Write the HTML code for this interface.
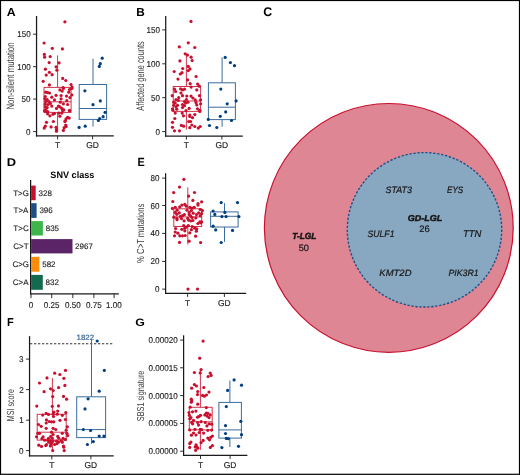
<!DOCTYPE html>
<html><head><meta charset="utf-8"><style>
html,body{margin:0;padding:0;background:#fff;width:520px;height:475px;overflow:hidden}
svg{display:block;font-family:"Liberation Sans", sans-serif;will-change:transform;text-rendering:geometricPrecision}
</style></head><body>
<svg width="520" height="475" viewBox="0 0 520 475">
<rect x="0" y="0" width="520" height="475" fill="#fff"/>
<text transform="matrix(1.23529,0,0,1.16176,6.653,15.800)" font-size="10" fill="#000" font-weight="bold">A</text>
<line x1="36.55" y1="16.00" x2="36.55" y2="136.47" stroke="#1a1a1a" stroke-width="1.25"/>
<line x1="35.92" y1="135.85" x2="113.80" y2="135.85" stroke="#1a1a1a" stroke-width="1.25"/>
<line x1="33.05" y1="131.60" x2="36.55" y2="131.60" stroke="#1a1a1a" stroke-width="0.9"/>
<text transform="matrix(0.80750,0,0,0.85000,26.101,134.675)" font-size="10" fill="#222222" stroke="#222222" stroke-width="0.15">0</text>
<line x1="33.05" y1="99.10" x2="36.55" y2="99.10" stroke="#1a1a1a" stroke-width="0.9"/>
<text transform="matrix(0.80750,0,0,0.85000,21.579,102.175)" font-size="10" fill="#222222" stroke="#222222" stroke-width="0.15">50</text>
<line x1="33.05" y1="66.70" x2="36.55" y2="66.70" stroke="#1a1a1a" stroke-width="0.9"/>
<text transform="matrix(0.80750,0,0,0.85000,17.218,69.775)" font-size="10" fill="#222222" stroke="#222222" stroke-width="0.15">100</text>
<line x1="33.05" y1="34.20" x2="36.55" y2="34.20" stroke="#1a1a1a" stroke-width="0.9"/>
<text transform="matrix(0.80750,0,0,0.85000,17.218,37.275)" font-size="10" fill="#222222" stroke="#222222" stroke-width="0.15">150</text>
<line x1="57.60" y1="135.85" x2="57.60" y2="139.45" stroke="#1a1a1a" stroke-width="0.9"/>
<text transform="matrix(0.84787,0,0,0.85000,55.056,148.340)" font-size="10" fill="#222222" stroke="#222222" stroke-width="0.15">T</text>
<line x1="92.60" y1="135.85" x2="92.60" y2="139.45" stroke="#1a1a1a" stroke-width="0.9"/>
<text transform="matrix(0.84787,0,0,0.85000,86.156,148.340)" font-size="10" fill="#222222" stroke="#222222" stroke-width="0.15">GD</text>
<text transform="matrix(0,-0.77830,1.06944,0,13.900,109.523)" font-size="10" fill="#3c3c3c">Non-silent mutation</text>
<g stroke="#d0354f" stroke-width="1.0" fill="none"><rect x="44.00" y="87.40" width="27.10" height="25.00"/><line x1="44.00" y1="101.80" x2="71.10" y2="101.80"/><line x1="57.60" y1="55.40" x2="57.60" y2="87.40"/><line x1="57.60" y1="112.40" x2="57.60" y2="131.50"/></g>
<g stroke="#3b6c9d" stroke-width="1.0" fill="none"><rect x="79.20" y="84.50" width="27.40" height="34.90"/><line x1="79.20" y1="108.50" x2="106.60" y2="108.50"/><line x1="93.00" y1="58.60" x2="93.00" y2="84.50"/><line x1="93.00" y1="119.40" x2="93.00" y2="126.60"/></g>
<g fill="#c8102e"><circle cx="64.9" cy="21.8" r="1.6"/><circle cx="44.1" cy="43.0" r="1.6"/><circle cx="52.3" cy="48.3" r="1.6"/><circle cx="62.4" cy="48.9" r="1.6"/><circle cx="44.3" cy="54.4" r="1.6"/><circle cx="44.6" cy="57.2" r="1.6"/><circle cx="50.2" cy="56.6" r="1.6"/><circle cx="49.2" cy="62.6" r="1.6"/><circle cx="59.1" cy="62.8" r="1.6"/><circle cx="56.1" cy="66.8" r="1.6"/><circle cx="56.9" cy="70.2" r="1.6"/><circle cx="45.4" cy="69.2" r="1.6"/><circle cx="49.4" cy="72.3" r="1.6"/><circle cx="46.2" cy="75.1" r="1.6"/><circle cx="52.1" cy="74.7" r="1.6"/><circle cx="43.2" cy="81.3" r="1.6"/><circle cx="62.7" cy="78.4" r="1.6"/><circle cx="65.8" cy="80.5" r="1.6"/><circle cx="49.4" cy="84.9" r="1.6"/><circle cx="71.0" cy="84.5" r="1.6"/><circle cx="72.1" cy="87.1" r="1.6"/><circle cx="63.1" cy="87.5" r="1.6"/><circle cx="59.9" cy="89.9" r="1.6"/><circle cx="62.2" cy="91.1" r="1.6"/><circle cx="63.4" cy="88.4" r="1.6"/><circle cx="69.5" cy="89.5" r="1.6"/><circle cx="68.8" cy="92.2" r="1.6"/><circle cx="71.8" cy="88.4" r="1.6"/><circle cx="45.7" cy="92.2" r="1.6"/><circle cx="47.6" cy="92.6" r="1.6"/><circle cx="49.5" cy="93.0" r="1.6"/><circle cx="56.1" cy="95.3" r="1.6"/><circle cx="61.1" cy="95.5" r="1.6"/><circle cx="66.5" cy="96.1" r="1.6"/><circle cx="71.8" cy="94.9" r="1.6"/><circle cx="69.9" cy="97.6" r="1.6"/><circle cx="51.8" cy="97.2" r="1.6"/><circle cx="45.3" cy="96.5" r="1.6"/><circle cx="44.9" cy="98.8" r="1.6"/><circle cx="47.2" cy="99.5" r="1.6"/><circle cx="61.1" cy="98.8" r="1.6"/><circle cx="54.5" cy="99.9" r="1.6"/><circle cx="66.8" cy="100.7" r="1.6"/><circle cx="45.7" cy="101.5" r="1.6"/><circle cx="48.8" cy="101.5" r="1.6"/><circle cx="60.3" cy="102.2" r="1.6"/><circle cx="50.3" cy="103.4" r="1.6"/><circle cx="45.3" cy="104.2" r="1.6"/><circle cx="48.0" cy="104.5" r="1.6"/><circle cx="63.4" cy="103.8" r="1.6"/><circle cx="67.6" cy="104.5" r="1.6"/><circle cx="51.8" cy="106.1" r="1.6"/><circle cx="58.4" cy="106.1" r="1.6"/><circle cx="59.9" cy="106.8" r="1.6"/><circle cx="45.3" cy="106.8" r="1.6"/><circle cx="47.2" cy="107.6" r="1.6"/><circle cx="56.5" cy="108.4" r="1.6"/><circle cx="61.8" cy="108.4" r="1.6"/><circle cx="45.7" cy="109.5" r="1.6"/><circle cx="63.8" cy="109.9" r="1.6"/><circle cx="69.5" cy="110.3" r="1.6"/><circle cx="45.3" cy="111.2" r="1.6"/><circle cx="44.5" cy="110.8" r="1.6"/><circle cx="47.6" cy="111.5" r="1.6"/><circle cx="62.6" cy="110.4" r="1.6"/><circle cx="69.5" cy="111.0" r="1.6"/><circle cx="47.6" cy="113.8" r="1.6"/><circle cx="49.9" cy="115.8" r="1.6"/><circle cx="53.0" cy="114.2" r="1.6"/><circle cx="54.5" cy="113.5" r="1.6"/><circle cx="58.8" cy="113.1" r="1.6"/><circle cx="61.8" cy="113.1" r="1.6"/><circle cx="59.9" cy="116.2" r="1.6"/><circle cx="67.6" cy="117.3" r="1.6"/><circle cx="69.2" cy="118.1" r="1.6"/><circle cx="66.1" cy="118.8" r="1.6"/><circle cx="65.3" cy="120.8" r="1.6"/><circle cx="64.9" cy="121.5" r="1.6"/><circle cx="46.5" cy="122.3" r="1.6"/><circle cx="53.4" cy="121.5" r="1.6"/><circle cx="45.3" cy="126.2" r="1.6"/><circle cx="44.2" cy="128.1" r="1.6"/><circle cx="51.1" cy="126.9" r="1.6"/><circle cx="56.1" cy="127.3" r="1.6"/><circle cx="56.5" cy="129.6" r="1.6"/><circle cx="56.5" cy="131.2" r="1.6"/><circle cx="65.7" cy="125.0" r="1.6"/><circle cx="66.1" cy="126.5" r="1.6"/><circle cx="64.2" cy="127.7" r="1.6"/><circle cx="63.4" cy="130.4" r="1.6"/></g>
<g fill="#023f80"><circle cx="102.2" cy="58.2" r="1.6"/><circle cx="100.3" cy="63.7" r="1.6"/><circle cx="99.3" cy="66.4" r="1.6"/><circle cx="84.9" cy="90.8" r="1.6"/><circle cx="100.3" cy="100.9" r="1.6"/><circle cx="93.0" cy="104.7" r="1.6"/><circle cx="105.1" cy="112.3" r="1.6"/><circle cx="103.1" cy="116.7" r="1.6"/><circle cx="99.7" cy="118.6" r="1.6"/><circle cx="98.4" cy="120.5" r="1.6"/><circle cx="79.1" cy="127.4" r="1.6"/><circle cx="85.2" cy="126.2" r="1.6"/></g>
<text transform="matrix(1.17742,0,0,1.16176,136.194,15.800)" font-size="10" fill="#000" font-weight="bold">B</text>
<line x1="165.70" y1="16.00" x2="165.70" y2="136.62" stroke="#1a1a1a" stroke-width="1.25"/>
<line x1="165.07" y1="136.00" x2="242.80" y2="136.00" stroke="#1a1a1a" stroke-width="1.25"/>
<line x1="162.20" y1="131.60" x2="165.70" y2="131.60" stroke="#1a1a1a" stroke-width="0.9"/>
<text transform="matrix(0.80750,0,0,0.85000,155.501,134.675)" font-size="10" fill="#222222" stroke="#222222" stroke-width="0.15">0</text>
<line x1="162.20" y1="97.70" x2="165.70" y2="97.70" stroke="#1a1a1a" stroke-width="0.9"/>
<text transform="matrix(0.80750,0,0,0.85000,150.979,100.775)" font-size="10" fill="#222222" stroke="#222222" stroke-width="0.15">50</text>
<line x1="162.20" y1="63.80" x2="165.70" y2="63.80" stroke="#1a1a1a" stroke-width="0.9"/>
<text transform="matrix(0.80750,0,0,0.85000,146.618,66.875)" font-size="10" fill="#222222" stroke="#222222" stroke-width="0.15">100</text>
<line x1="162.20" y1="29.90" x2="165.70" y2="29.90" stroke="#1a1a1a" stroke-width="0.9"/>
<text transform="matrix(0.80750,0,0,0.85000,146.618,32.975)" font-size="10" fill="#222222" stroke="#222222" stroke-width="0.15">150</text>
<line x1="186.40" y1="136.00" x2="186.40" y2="139.60" stroke="#1a1a1a" stroke-width="0.9"/>
<text transform="matrix(0.84787,0,0,0.85000,183.856,148.490)" font-size="10" fill="#222222" stroke="#222222" stroke-width="0.15">T</text>
<line x1="221.90" y1="136.00" x2="221.90" y2="139.60" stroke="#1a1a1a" stroke-width="0.9"/>
<text transform="matrix(0.84787,0,0,0.85000,215.456,148.490)" font-size="10" fill="#222222" stroke="#222222" stroke-width="0.15">GD</text>
<text transform="matrix(0,-0.73983,1.07609,0,143.848,110.700)" font-size="10" fill="#3c3c3c">Affected gene counts</text>
<g stroke="#d0354f" stroke-width="1.0" fill="none"><rect x="173.20" y="86.50" width="27.40" height="24.90"/><line x1="173.20" y1="101.00" x2="200.60" y2="101.00"/><line x1="186.40" y1="54.60" x2="186.40" y2="86.50"/><line x1="186.40" y1="111.40" x2="186.40" y2="129.60"/></g>
<g stroke="#3b6c9d" stroke-width="1.0" fill="none"><rect x="208.40" y="82.80" width="27.00" height="36.80"/><line x1="208.40" y1="107.20" x2="235.40" y2="107.20"/><line x1="222.10" y1="57.40" x2="222.10" y2="82.80"/><line x1="222.10" y1="119.60" x2="222.10" y2="126.70"/></g>
<g fill="#c8102e"><circle cx="191.0" cy="21.4" r="1.6"/><circle cx="188.3" cy="42.8" r="1.6"/><circle cx="179.3" cy="46.8" r="1.6"/><circle cx="194.8" cy="47.5" r="1.6"/><circle cx="185.2" cy="53.8" r="1.6"/><circle cx="187.5" cy="55.1" r="1.6"/><circle cx="191.1" cy="57.2" r="1.6"/><circle cx="192.1" cy="60.5" r="1.6"/><circle cx="179.9" cy="60.9" r="1.6"/><circle cx="188.3" cy="66.4" r="1.6"/><circle cx="190.0" cy="68.9" r="1.6"/><circle cx="188.3" cy="70.6" r="1.6"/><circle cx="182.7" cy="68.5" r="1.6"/><circle cx="174.2" cy="71.5" r="1.6"/><circle cx="182.0" cy="72.7" r="1.6"/><circle cx="180.3" cy="74.0" r="1.6"/><circle cx="196.1" cy="76.5" r="1.6"/><circle cx="178.0" cy="79.1" r="1.6"/><circle cx="187.6" cy="79.9" r="1.6"/><circle cx="190.2" cy="83.7" r="1.6"/><circle cx="197.6" cy="84.1" r="1.6"/><circle cx="199.3" cy="86.2" r="1.6"/><circle cx="191.1" cy="87.1" r="1.6"/><circle cx="174.5" cy="89.2" r="1.6"/><circle cx="175.6" cy="91.5" r="1.6"/><circle cx="180.6" cy="88.8" r="1.6"/><circle cx="182.5" cy="89.9" r="1.6"/><circle cx="184.5" cy="89.2" r="1.6"/><circle cx="196.8" cy="89.9" r="1.6"/><circle cx="181.0" cy="93.0" r="1.6"/><circle cx="172.2" cy="95.7" r="1.6"/><circle cx="182.5" cy="95.7" r="1.6"/><circle cx="186.8" cy="96.1" r="1.6"/><circle cx="191.0" cy="96.1" r="1.6"/><circle cx="199.5" cy="95.7" r="1.6"/><circle cx="178.7" cy="97.6" r="1.6"/><circle cx="192.9" cy="98.0" r="1.6"/><circle cx="176.0" cy="99.5" r="1.6"/><circle cx="178.3" cy="100.3" r="1.6"/><circle cx="186.4" cy="99.5" r="1.6"/><circle cx="195.2" cy="99.9" r="1.6"/><circle cx="200.6" cy="99.9" r="1.6"/><circle cx="173.7" cy="102.2" r="1.6"/><circle cx="175.2" cy="103.0" r="1.6"/><circle cx="184.5" cy="101.5" r="1.6"/><circle cx="185.6" cy="103.0" r="1.6"/><circle cx="187.9" cy="102.2" r="1.6"/><circle cx="196.0" cy="102.6" r="1.6"/><circle cx="200.6" cy="103.8" r="1.6"/><circle cx="173.7" cy="105.3" r="1.6"/><circle cx="177.5" cy="105.3" r="1.6"/><circle cx="182.5" cy="104.5" r="1.6"/><circle cx="184.5" cy="105.7" r="1.6"/><circle cx="196.8" cy="104.9" r="1.6"/><circle cx="176.0" cy="106.8" r="1.6"/><circle cx="182.5" cy="107.6" r="1.6"/><circle cx="189.1" cy="108.4" r="1.6"/><circle cx="172.5" cy="108.8" r="1.6"/><circle cx="176.8" cy="109.2" r="1.6"/><circle cx="197.5" cy="108.8" r="1.6"/><circle cx="172.9" cy="110.3" r="1.6"/><circle cx="186.0" cy="110.7" r="1.6"/><circle cx="199.8" cy="110.3" r="1.6"/><circle cx="199.8" cy="111.5" r="1.6"/><circle cx="175.2" cy="113.1" r="1.6"/><circle cx="182.2" cy="113.1" r="1.6"/><circle cx="183.5" cy="115.8" r="1.6"/><circle cx="189.8" cy="115.0" r="1.6"/><circle cx="189.8" cy="116.5" r="1.6"/><circle cx="192.5" cy="117.7" r="1.6"/><circle cx="194.8" cy="114.6" r="1.6"/><circle cx="174.8" cy="118.5" r="1.6"/><circle cx="172.5" cy="122.3" r="1.6"/><circle cx="188.7" cy="121.5" r="1.6"/><circle cx="190.6" cy="121.5" r="1.6"/><circle cx="181.4" cy="125.4" r="1.6"/><circle cx="183.7" cy="126.2" r="1.6"/><circle cx="191.8" cy="125.0" r="1.6"/><circle cx="189.8" cy="127.7" r="1.6"/><circle cx="194.8" cy="126.5" r="1.6"/><circle cx="198.3" cy="128.1" r="1.6"/><circle cx="200.2" cy="126.5" r="1.6"/><circle cx="172.5" cy="127.3" r="1.6"/><circle cx="174.5" cy="130.8" r="1.6"/><circle cx="179.5" cy="130.8" r="1.6"/></g>
<g fill="#023f80"><circle cx="225.2" cy="57.4" r="1.6"/><circle cx="230.4" cy="62.6" r="1.6"/><circle cx="234.5" cy="65.7" r="1.6"/><circle cx="220.8" cy="89.1" r="1.6"/><circle cx="236.1" cy="100.9" r="1.6"/><circle cx="227.2" cy="103.8" r="1.6"/><circle cx="225.7" cy="111.9" r="1.6"/><circle cx="220.3" cy="116.3" r="1.6"/><circle cx="208.3" cy="119.4" r="1.6"/><circle cx="231.5" cy="120.5" r="1.6"/><circle cx="209.5" cy="125.5" r="1.6"/><circle cx="216.8" cy="127.5" r="1.6"/></g>
<text transform="matrix(1.23437,0,0,1.25714,263.306,16.200)" font-size="10" fill="#000" font-weight="bold">C</text>
<circle cx="388.8" cy="227.9" r="124.4" fill="#df8695" stroke="#c8102e" stroke-width="1.2"/>
<circle cx="424.5" cy="229.8" r="77.2" fill="#88a7c0" stroke="#1b5089" stroke-width="1.4" stroke-dasharray="2.3 1.7"/>
<text transform="matrix(0.83330,0,0,0.88194,292.267,238.937)" font-size="10" fill="#161616" font-weight="bold" font-style="italic" stroke="#161616" stroke-width="0.55">T-LGL</text>
<text transform="matrix(0.92419,0,0,0.92980,298.725,250.704)" font-size="10" fill="#161616" stroke="#161616" stroke-width="0.2">50</text>
<text transform="matrix(0.89782,0,0,0.85561,407.791,220.645)" font-size="10" fill="#161616" font-weight="bold" font-style="italic" stroke="#161616" stroke-width="0.55">GD-LGL</text>
<text transform="matrix(0.94080,0,0,0.94367,419.232,232.103)" font-size="10" fill="#161616" stroke="#161616" stroke-width="0.2">26</text>
<text transform="matrix(0.88771,0,0,0.92980,385.534,192.704)" font-size="10" fill="#161616" font-style="italic" stroke="#161616" stroke-width="0.2">STAT3</text>
<text transform="matrix(0.80604,0,0,0.92980,447.059,192.704)" font-size="10" fill="#161616" font-style="italic" stroke="#161616" stroke-width="0.2">EYS</text>
<text transform="matrix(0.86996,0,0,0.92980,367.440,236.704)" font-size="10" fill="#161616" font-style="italic" stroke="#161616" stroke-width="0.2">SULF1</text>
<text transform="matrix(0.95150,0,0,0.97059,462.945,236.800)" font-size="10" fill="#161616" font-style="italic" stroke="#161616" stroke-width="0.2">TTN</text>
<text transform="matrix(0.94907,0,0,0.91592,379.316,275.806)" font-size="10" fill="#161616" font-style="italic" stroke="#161616" stroke-width="0.2">KMT2D</text>
<text transform="matrix(0.87721,0,0,0.91592,448.437,275.806)" font-size="10" fill="#161616" font-style="italic" stroke="#161616" stroke-width="0.2">PIK3R1</text>
<text transform="matrix(1.29032,0,0,1.13235,6.626,166.200)" font-size="10" fill="#000" font-weight="bold">D</text>
<text transform="matrix(0.90966,0,0,0.93056,50.336,177.600)" font-size="10" fill="#000" font-weight="bold">SNV class</text>
<line x1="30.60" y1="180.00" x2="30.60" y2="294.35" stroke="#1a1a1a" stroke-width="1.25"/>
<line x1="30.00" y1="293.75" x2="118.80" y2="293.75" stroke="#1a1a1a" stroke-width="1.25"/>
<line x1="31.00" y1="293.75" x2="31.00" y2="298.15" stroke="#1a1a1a" stroke-width="0.9"/>
<text transform="matrix(0.80750,0,0,0.85000,28.739,307.975)" font-size="10" fill="#222222" stroke="#222222" stroke-width="0.15">0</text>
<line x1="51.70" y1="293.75" x2="51.70" y2="298.15" stroke="#1a1a1a" stroke-width="0.9"/>
<text transform="matrix(0.80750,0,0,0.85000,43.867,307.975)" font-size="10" fill="#222222" stroke="#222222" stroke-width="0.15">0.25</text>
<line x1="72.80" y1="293.75" x2="72.80" y2="298.15" stroke="#1a1a1a" stroke-width="0.9"/>
<text transform="matrix(0.80750,0,0,0.85000,64.967,307.975)" font-size="10" fill="#222222" stroke="#222222" stroke-width="0.15">0.50</text>
<line x1="93.90" y1="293.75" x2="93.90" y2="298.15" stroke="#1a1a1a" stroke-width="0.9"/>
<text transform="matrix(0.80750,0,0,0.85000,86.067,307.975)" font-size="10" fill="#222222" stroke="#222222" stroke-width="0.15">0.75</text>
<line x1="114.10" y1="293.75" x2="114.10" y2="298.15" stroke="#1a1a1a" stroke-width="0.9"/>
<text transform="matrix(0.80750,0,0,0.85000,106.106,307.975)" font-size="10" fill="#222222" stroke="#222222" stroke-width="0.15">1.00</text>
<rect x="31.10" y="185.60" width="4.60" height="14.60" fill="#c8102e"/>
<text transform="matrix(0.80000,0,0,0.80000,13.200,195.620)" font-size="10" fill="#222222" stroke="#222222" stroke-width="0.15">T&gt;G</text>
<text transform="matrix(0.80000,0,0,0.80000,38.480,195.700)" font-size="10" fill="#222222" stroke="#222222" stroke-width="0.15">328</text>
<rect x="31.10" y="203.20" width="5.50" height="14.70" fill="#1b4f8a"/>
<text transform="matrix(0.80000,0,0,0.80000,13.520,213.270)" font-size="10" fill="#222222" stroke="#222222" stroke-width="0.15">T&gt;A</text>
<text transform="matrix(0.80000,0,0,0.80000,39.380,213.350)" font-size="10" fill="#222222" stroke="#222222" stroke-width="0.15">396</text>
<rect x="31.10" y="221.10" width="11.80" height="14.40" fill="#3db54a"/>
<text transform="matrix(0.80000,0,0,0.80000,13.360,231.020)" font-size="10" fill="#222222" stroke="#222222" stroke-width="0.15">T&gt;C</text>
<text transform="matrix(0.80000,0,0,0.80000,45.680,231.100)" font-size="10" fill="#222222" stroke="#222222" stroke-width="0.15">835</text>
<rect x="31.10" y="239.10" width="41.40" height="14.30" fill="#5a2467"/>
<text transform="matrix(0.80000,0,0,0.80000,13.200,248.970)" font-size="10" fill="#222222" stroke="#222222" stroke-width="0.15">C&gt;T</text>
<text transform="matrix(0.80000,0,0,0.80000,75.120,249.050)" font-size="10" fill="#222222" stroke="#222222" stroke-width="0.15">2967</text>
<rect x="31.10" y="256.80" width="8.30" height="14.90" fill="#fb8c0c"/>
<text transform="matrix(0.80000,0,0,0.80000,12.400,266.970)" font-size="10" fill="#222222" stroke="#222222" stroke-width="0.15">C&gt;G</text>
<text transform="matrix(0.80000,0,0,0.80000,42.180,267.050)" font-size="10" fill="#222222" stroke="#222222" stroke-width="0.15">582</text>
<rect x="31.10" y="274.90" width="11.70" height="14.90" fill="#146a4e"/>
<text transform="matrix(0.80000,0,0,0.80000,12.720,285.070)" font-size="10" fill="#222222" stroke="#222222" stroke-width="0.15">C&gt;A</text>
<text transform="matrix(0.80000,0,0,0.80000,45.580,285.150)" font-size="10" fill="#222222" stroke="#222222" stroke-width="0.15">832</text>
<text transform="matrix(1.08929,0,0,1.19118,137.446,166.200)" font-size="10" fill="#000" font-weight="bold">E</text>
<line x1="165.60" y1="173.20" x2="165.60" y2="293.93" stroke="#1a1a1a" stroke-width="1.25"/>
<line x1="164.97" y1="293.30" x2="246.20" y2="293.30" stroke="#1a1a1a" stroke-width="1.25"/>
<line x1="162.10" y1="289.10" x2="165.60" y2="289.10" stroke="#1a1a1a" stroke-width="0.9"/>
<text transform="matrix(0.80750,0,0,0.85000,155.101,292.175)" font-size="10" fill="#222222" stroke="#222222" stroke-width="0.15">0</text>
<line x1="162.10" y1="261.40" x2="165.60" y2="261.40" stroke="#1a1a1a" stroke-width="0.9"/>
<text transform="matrix(0.80750,0,0,0.85000,150.579,264.475)" font-size="10" fill="#222222" stroke="#222222" stroke-width="0.15">20</text>
<line x1="162.10" y1="233.40" x2="165.60" y2="233.40" stroke="#1a1a1a" stroke-width="0.9"/>
<text transform="matrix(0.80750,0,0,0.85000,150.579,236.475)" font-size="10" fill="#222222" stroke="#222222" stroke-width="0.15">40</text>
<line x1="162.10" y1="205.50" x2="165.60" y2="205.50" stroke="#1a1a1a" stroke-width="0.9"/>
<text transform="matrix(0.80750,0,0,0.85000,150.579,208.575)" font-size="10" fill="#222222" stroke="#222222" stroke-width="0.15">60</text>
<line x1="162.10" y1="178.10" x2="165.60" y2="178.10" stroke="#1a1a1a" stroke-width="0.9"/>
<text transform="matrix(0.80750,0,0,0.85000,150.579,181.175)" font-size="10" fill="#222222" stroke="#222222" stroke-width="0.15">80</text>
<line x1="187.60" y1="293.30" x2="187.60" y2="296.90" stroke="#1a1a1a" stroke-width="0.9"/>
<text transform="matrix(0.84787,0,0,0.85000,185.056,305.790)" font-size="10" fill="#222222" stroke="#222222" stroke-width="0.15">T</text>
<line x1="224.40" y1="293.30" x2="224.40" y2="296.90" stroke="#1a1a1a" stroke-width="0.9"/>
<text transform="matrix(0.84787,0,0,0.85000,217.956,305.790)" font-size="10" fill="#222222" stroke="#222222" stroke-width="0.15">GD</text>
<text transform="matrix(0,-0.77105,1.02778,0,144.200,262.908)" font-size="10" fill="#3c3c3c">% C&gt;T mutations</text>
<g stroke="#d0354f" stroke-width="1.0" fill="none"><rect x="173.80" y="208.80" width="27.90" height="17.70"/><line x1="173.80" y1="216.90" x2="201.70" y2="216.90"/><line x1="187.80" y1="187.30" x2="187.80" y2="208.80"/><line x1="187.80" y1="226.50" x2="187.80" y2="244.50"/></g>
<g stroke="#3b6c9d" stroke-width="1.0" fill="none"><rect x="210.60" y="211.90" width="27.50" height="15.10"/><line x1="210.60" y1="216.30" x2="238.10" y2="216.30"/><line x1="224.50" y1="203.10" x2="224.50" y2="211.90"/><line x1="224.50" y1="227.00" x2="224.50" y2="241.90"/></g>
<g fill="#c8102e"><circle cx="183.9" cy="179.3" r="1.6"/><circle cx="179.5" cy="187.1" r="1.6"/><circle cx="173.7" cy="192.6" r="1.6"/><circle cx="194.5" cy="192.5" r="1.6"/><circle cx="188.6" cy="196.1" r="1.6"/><circle cx="172.8" cy="201.5" r="1.6"/><circle cx="192.9" cy="200.4" r="1.6"/><circle cx="198.0" cy="203.7" r="1.6"/><circle cx="201.6" cy="201.8" r="1.6"/><circle cx="198.0" cy="205.1" r="1.6"/><circle cx="172.4" cy="208.4" r="1.6"/><circle cx="175.3" cy="207.3" r="1.6"/><circle cx="179.7" cy="206.9" r="1.6"/><circle cx="181.9" cy="205.1" r="1.6"/><circle cx="184.8" cy="204.4" r="1.6"/><circle cx="186.3" cy="206.2" r="1.6"/><circle cx="189.9" cy="207.3" r="1.6"/><circle cx="192.1" cy="208.0" r="1.6"/><circle cx="194.3" cy="207.3" r="1.6"/><circle cx="177.1" cy="210.2" r="1.6"/><circle cx="187.0" cy="210.2" r="1.6"/><circle cx="191.4" cy="210.6" r="1.6"/><circle cx="200.2" cy="209.5" r="1.6"/><circle cx="202.4" cy="210.6" r="1.6"/><circle cx="175.3" cy="212.4" r="1.6"/><circle cx="179.3" cy="212.8" r="1.6"/><circle cx="189.2" cy="212.4" r="1.6"/><circle cx="193.2" cy="213.2" r="1.6"/><circle cx="198.7" cy="212.8" r="1.6"/><circle cx="201.6" cy="213.5" r="1.6"/><circle cx="176.8" cy="214.3" r="1.6"/><circle cx="184.4" cy="214.6" r="1.6"/><circle cx="189.2" cy="214.6" r="1.6"/><circle cx="196.5" cy="214.6" r="1.6"/><circle cx="173.8" cy="217.2" r="1.6"/><circle cx="180.4" cy="216.4" r="1.6"/><circle cx="182.6" cy="215.7" r="1.6"/><circle cx="190.7" cy="216.1" r="1.6"/><circle cx="192.1" cy="217.5" r="1.6"/><circle cx="200.2" cy="215.7" r="1.6"/><circle cx="176.8" cy="218.3" r="1.6"/><circle cx="181.5" cy="218.6" r="1.6"/><circle cx="187.7" cy="218.3" r="1.6"/><circle cx="195.8" cy="217.9" r="1.6"/><circle cx="177.1" cy="219.7" r="1.6"/><circle cx="184.1" cy="220.8" r="1.6"/><circle cx="188.5" cy="220.1" r="1.6"/><circle cx="190.7" cy="220.8" r="1.6"/><circle cx="192.9" cy="220.5" r="1.6"/><circle cx="199.8" cy="221.9" r="1.6"/><circle cx="201.6" cy="221.9" r="1.6"/><circle cx="183.7" cy="225.5" r="1.6"/><circle cx="188.3" cy="225.5" r="1.6"/><circle cx="192.2" cy="226.6" r="1.6"/><circle cx="197.9" cy="223.5" r="1.6"/><circle cx="200.6" cy="222.8" r="1.6"/><circle cx="175.6" cy="228.5" r="1.6"/><circle cx="181.8" cy="229.3" r="1.6"/><circle cx="184.8" cy="228.2" r="1.6"/><circle cx="186.4" cy="227.0" r="1.6"/><circle cx="191.4" cy="229.7" r="1.6"/><circle cx="194.8" cy="228.2" r="1.6"/><circle cx="196.8" cy="228.9" r="1.6"/><circle cx="196.4" cy="231.2" r="1.6"/><circle cx="184.8" cy="230.8" r="1.6"/><circle cx="175.2" cy="232.0" r="1.6"/><circle cx="177.9" cy="233.2" r="1.6"/><circle cx="189.8" cy="232.8" r="1.6"/><circle cx="179.8" cy="235.8" r="1.6"/><circle cx="182.5" cy="235.8" r="1.6"/><circle cx="185.2" cy="235.5" r="1.6"/><circle cx="174.5" cy="235.8" r="1.6"/><circle cx="195.6" cy="236.2" r="1.6"/><circle cx="179.5" cy="242.4" r="1.6"/><circle cx="189.1" cy="241.2" r="1.6"/><circle cx="200.6" cy="242.6" r="1.6"/><circle cx="188.0" cy="289.1" r="1.6"/><circle cx="197.5" cy="289.1" r="1.6"/></g>
<g fill="#023f80"><circle cx="221.2" cy="202.6" r="1.6"/><circle cx="237.5" cy="202.6" r="1.6"/><circle cx="213.1" cy="211.0" r="1.6"/><circle cx="214.8" cy="214.4" r="1.6"/><circle cx="224.9" cy="212.4" r="1.6"/><circle cx="221.9" cy="216.6" r="1.6"/><circle cx="226.1" cy="216.6" r="1.6"/><circle cx="238.9" cy="216.6" r="1.6"/><circle cx="213.1" cy="226.2" r="1.6"/><circle cx="215.7" cy="229.9" r="1.6"/><circle cx="232.5" cy="230.4" r="1.6"/><circle cx="221.2" cy="242.5" r="1.6"/></g>
<text transform="matrix(1.09615,0,0,1.14706,6.942,326.400)" font-size="10" fill="#000" font-weight="bold">F</text>
<line x1="29.55" y1="336.10" x2="29.55" y2="456.48" stroke="#1a1a1a" stroke-width="1.25"/>
<line x1="28.93" y1="455.85" x2="113.70" y2="455.85" stroke="#1a1a1a" stroke-width="1.25"/>
<line x1="26.05" y1="450.60" x2="29.55" y2="450.60" stroke="#1a1a1a" stroke-width="0.9"/>
<text transform="matrix(0.80750,0,0,0.85000,19.101,453.675)" font-size="10" fill="#222222" stroke="#222222" stroke-width="0.15">0</text>
<line x1="26.05" y1="420.20" x2="29.55" y2="420.20" stroke="#1a1a1a" stroke-width="0.9"/>
<text transform="matrix(0.80750,0,0,0.85000,19.263,423.275)" font-size="10" fill="#222222" stroke="#222222" stroke-width="0.15">1</text>
<line x1="26.05" y1="389.60" x2="29.55" y2="389.60" stroke="#1a1a1a" stroke-width="0.9"/>
<text transform="matrix(0.80750,0,0,0.85000,19.263,392.675)" font-size="10" fill="#222222" stroke="#222222" stroke-width="0.15">2</text>
<line x1="26.05" y1="359.10" x2="29.55" y2="359.10" stroke="#1a1a1a" stroke-width="0.9"/>
<text transform="matrix(0.80750,0,0,0.85000,19.101,362.175)" font-size="10" fill="#222222" stroke="#222222" stroke-width="0.15">3</text>
<line x1="51.80" y1="455.85" x2="51.80" y2="459.45" stroke="#1a1a1a" stroke-width="0.9"/>
<text transform="matrix(0.84787,0,0,0.85000,49.256,468.340)" font-size="10" fill="#222222" stroke="#222222" stroke-width="0.15">T</text>
<line x1="90.90" y1="455.85" x2="90.90" y2="459.45" stroke="#1a1a1a" stroke-width="0.9"/>
<text transform="matrix(0.84787,0,0,0.85000,84.456,468.340)" font-size="10" fill="#222222" stroke="#222222" stroke-width="0.15">GD</text>
<text transform="matrix(0,-0.71233,1.02857,0,14.000,421.170)" font-size="10" fill="#3c3c3c">MSI score</text>
<line x1="30.00" y1="343.80" x2="113.60" y2="343.80" stroke="#333" stroke-width="1.1" stroke-dasharray="2.3 1.7"/>
<text transform="matrix(0.78857,0,0,0.76571,76.589,339.980)" font-size="10" fill="#3b6c9d" stroke="#3b6c9d" stroke-width="0.3">1822</text>
<g stroke="#d0354f" stroke-width="1.0" fill="none"><rect x="37.20" y="414.30" width="29.00" height="25.80"/><line x1="37.20" y1="432.20" x2="66.20" y2="432.20"/><line x1="52.40" y1="378.10" x2="52.40" y2="414.30"/><line x1="52.40" y1="440.10" x2="52.40" y2="450.60"/></g>
<g stroke="#3b6c9d" stroke-width="1.0" fill="none"><rect x="76.70" y="396.80" width="28.90" height="40.80"/><line x1="76.70" y1="429.60" x2="105.60" y2="429.60"/><line x1="91.50" y1="339.50" x2="91.50" y2="396.80"/><line x1="91.50" y1="437.60" x2="91.50" y2="443.80"/></g>
<g fill="#c8102e"><circle cx="65.5" cy="370.4" r="1.6"/><circle cx="54.7" cy="373.2" r="1.6"/><circle cx="59.9" cy="374.5" r="1.6"/><circle cx="47.0" cy="377.9" r="1.6"/><circle cx="63.9" cy="378.3" r="1.6"/><circle cx="39.5" cy="383.0" r="1.6"/><circle cx="64.9" cy="385.4" r="1.6"/><circle cx="58.6" cy="387.6" r="1.6"/><circle cx="50.5" cy="388.8" r="1.6"/><circle cx="53.2" cy="390.5" r="1.6"/><circle cx="44.1" cy="391.7" r="1.6"/><circle cx="52.7" cy="396.6" r="1.6"/><circle cx="63.5" cy="396.4" r="1.6"/><circle cx="66.6" cy="399.2" r="1.6"/><circle cx="36.8" cy="406.1" r="1.6"/><circle cx="52.3" cy="406.3" r="1.6"/><circle cx="58.5" cy="405.9" r="1.6"/><circle cx="57.7" cy="411.1" r="1.6"/><circle cx="53.8" cy="412.2" r="1.6"/><circle cx="65.8" cy="412.6" r="1.6"/><circle cx="46.2" cy="413.4" r="1.6"/><circle cx="48.5" cy="414.4" r="1.6"/><circle cx="42.7" cy="415.1" r="1.6"/><circle cx="53.1" cy="414.2" r="1.6"/><circle cx="57.3" cy="414.2" r="1.6"/><circle cx="62.3" cy="415.3" r="1.6"/><circle cx="53.5" cy="416.5" r="1.6"/><circle cx="46.5" cy="419.9" r="1.6"/><circle cx="49.2" cy="421.5" r="1.6"/><circle cx="51.5" cy="421.8" r="1.6"/><circle cx="53.8" cy="421.8" r="1.6"/><circle cx="60.0" cy="420.3" r="1.6"/><circle cx="65.4" cy="419.5" r="1.6"/><circle cx="46.2" cy="423.0" r="1.6"/><circle cx="38.5" cy="424.5" r="1.6"/><circle cx="41.2" cy="426.3" r="1.6"/><circle cx="46.2" cy="428.3" r="1.6"/><circle cx="53.1" cy="428.3" r="1.6"/><circle cx="55.8" cy="429.5" r="1.6"/><circle cx="67.3" cy="426.8" r="1.6"/><circle cx="66.2" cy="430.2" r="1.6"/><circle cx="51.5" cy="432.2" r="1.6"/><circle cx="37.7" cy="433.3" r="1.6"/><circle cx="39.6" cy="433.3" r="1.6"/><circle cx="62.3" cy="433.3" r="1.6"/><circle cx="66.9" cy="433.3" r="1.6"/><circle cx="53.1" cy="434.5" r="1.6"/><circle cx="67.7" cy="435.6" r="1.6"/><circle cx="36.5" cy="436.8" r="1.6"/><circle cx="43.1" cy="436.8" r="1.6"/><circle cx="50.8" cy="436.4" r="1.6"/><circle cx="57.7" cy="436.4" r="1.6"/><circle cx="41.9" cy="438.7" r="1.6"/><circle cx="48.5" cy="438.3" r="1.6"/><circle cx="52.3" cy="438.3" r="1.6"/><circle cx="58.8" cy="438.3" r="1.6"/><circle cx="63.1" cy="438.3" r="1.6"/><circle cx="65.4" cy="439.5" r="1.6"/><circle cx="44.6" cy="440.2" r="1.6"/><circle cx="47.7" cy="440.2" r="1.6"/><circle cx="50.4" cy="440.6" r="1.6"/><circle cx="53.1" cy="441.0" r="1.6"/><circle cx="56.5" cy="441.0" r="1.6"/><circle cx="61.2" cy="440.6" r="1.6"/><circle cx="48.8" cy="442.2" r="1.6"/><circle cx="51.9" cy="442.5" r="1.6"/><circle cx="58.5" cy="442.2" r="1.6"/><circle cx="62.3" cy="442.2" r="1.6"/><circle cx="46.5" cy="444.5" r="1.6"/><circle cx="50.8" cy="444.1" r="1.6"/><circle cx="54.6" cy="444.5" r="1.6"/><circle cx="56.9" cy="443.7" r="1.6"/><circle cx="38.8" cy="445.2" r="1.6"/><circle cx="41.5" cy="446.4" r="1.6"/><circle cx="45.8" cy="445.6" r="1.6"/><circle cx="50.4" cy="446.0" r="1.6"/><circle cx="63.5" cy="446.0" r="1.6"/><circle cx="63.8" cy="447.2" r="1.6"/><circle cx="52.7" cy="450.6" r="1.6"/><circle cx="64.2" cy="450.6" r="1.6"/></g>
<g fill="#023f80"><circle cx="97.2" cy="341.0" r="1.6"/><circle cx="104.3" cy="370.4" r="1.6"/><circle cx="99.2" cy="391.2" r="1.6"/><circle cx="88.1" cy="398.8" r="1.6"/><circle cx="85.0" cy="408.9" r="1.6"/><circle cx="83.3" cy="429.5" r="1.6"/><circle cx="90.6" cy="430.5" r="1.6"/><circle cx="99.2" cy="436.1" r="1.6"/><circle cx="103.9" cy="436.1" r="1.6"/><circle cx="93.3" cy="441.6" r="1.6"/><circle cx="87.4" cy="444.5" r="1.6"/></g>
<text transform="matrix(1.23529,0,0,1.08571,135.206,326.400)" font-size="10" fill="#000" font-weight="bold">G</text>
<line x1="183.60" y1="335.30" x2="183.60" y2="455.93" stroke="#1a1a1a" stroke-width="1.25"/>
<line x1="182.97" y1="455.30" x2="247.40" y2="455.30" stroke="#1a1a1a" stroke-width="1.25"/>
<line x1="180.10" y1="451.20" x2="183.60" y2="451.20" stroke="#1a1a1a" stroke-width="0.9"/>
<text transform="matrix(0.80750,0,0,0.85000,148.591,454.275)" font-size="10" fill="#222222" stroke="#222222" stroke-width="0.15">0.00000</text>
<line x1="180.10" y1="423.40" x2="183.60" y2="423.40" stroke="#1a1a1a" stroke-width="0.9"/>
<text transform="matrix(0.80750,0,0,0.85000,148.591,426.475)" font-size="10" fill="#222222" stroke="#222222" stroke-width="0.15">0.00005</text>
<line x1="180.10" y1="395.60" x2="183.60" y2="395.60" stroke="#1a1a1a" stroke-width="0.9"/>
<text transform="matrix(0.80750,0,0,0.85000,148.591,398.675)" font-size="10" fill="#222222" stroke="#222222" stroke-width="0.15">0.00010</text>
<line x1="180.10" y1="367.80" x2="183.60" y2="367.80" stroke="#1a1a1a" stroke-width="0.9"/>
<text transform="matrix(0.80750,0,0,0.85000,148.591,370.875)" font-size="10" fill="#222222" stroke="#222222" stroke-width="0.15">0.00015</text>
<line x1="180.10" y1="340.10" x2="183.60" y2="340.10" stroke="#1a1a1a" stroke-width="0.9"/>
<text transform="matrix(0.80750,0,0,0.85000,148.591,343.175)" font-size="10" fill="#222222" stroke="#222222" stroke-width="0.15">0.00020</text>
<line x1="200.50" y1="455.30" x2="200.50" y2="458.90" stroke="#1a1a1a" stroke-width="0.9"/>
<text transform="matrix(0.84787,0,0,0.85000,197.956,467.790)" font-size="10" fill="#222222" stroke="#222222" stroke-width="0.15">T</text>
<line x1="230.10" y1="455.30" x2="230.10" y2="458.90" stroke="#1a1a1a" stroke-width="0.9"/>
<text transform="matrix(0.84787,0,0,0.85000,223.656,467.790)" font-size="10" fill="#222222" stroke="#222222" stroke-width="0.15">GD</text>
<text transform="matrix(0,-0.72661,1.01087,0,144.078,421.136)" font-size="10" fill="#3c3c3c">SBS1 signature</text>
<g stroke="#d0354f" stroke-width="1.0" fill="none"><rect x="189.30" y="407.30" width="22.90" height="22.60"/><line x1="189.30" y1="421.80" x2="212.20" y2="421.80"/><line x1="200.40" y1="370.00" x2="200.40" y2="407.30"/><line x1="200.40" y1="429.90" x2="200.40" y2="449.90"/></g>
<g stroke="#3b6c9d" stroke-width="1.0" fill="none"><rect x="218.90" y="402.40" width="22.50" height="35.70"/><line x1="218.90" y1="429.90" x2="241.40" y2="429.90"/><line x1="229.90" y1="380.50" x2="229.90" y2="402.40"/><line x1="229.90" y1="438.10" x2="229.90" y2="447.00"/></g>
<g fill="#c8102e"><circle cx="203.1" cy="341.1" r="1.6"/><circle cx="199.7" cy="358.2" r="1.6"/><circle cx="201.1" cy="369.5" r="1.6"/><circle cx="194.4" cy="372.5" r="1.6"/><circle cx="200.2" cy="372.9" r="1.6"/><circle cx="210.2" cy="373.1" r="1.6"/><circle cx="211.1" cy="375.4" r="1.6"/><circle cx="208.1" cy="376.5" r="1.6"/><circle cx="194.4" cy="384.6" r="1.6"/><circle cx="196.5" cy="386.0" r="1.6"/><circle cx="191.7" cy="388.2" r="1.6"/><circle cx="203.8" cy="387.5" r="1.6"/><circle cx="197.7" cy="391.5" r="1.6"/><circle cx="209.0" cy="392.1" r="1.6"/><circle cx="197.5" cy="394.6" r="1.6"/><circle cx="202.5" cy="395.4" r="1.6"/><circle cx="204.4" cy="396.2" r="1.6"/><circle cx="206.5" cy="395.0" r="1.6"/><circle cx="191.3" cy="399.2" r="1.6"/><circle cx="191.7" cy="400.7" r="1.6"/><circle cx="191.3" cy="402.2" r="1.6"/><circle cx="197.7" cy="404.2" r="1.6"/><circle cx="190.2" cy="407.2" r="1.6"/><circle cx="206.3" cy="407.6" r="1.6"/><circle cx="192.5" cy="411.8" r="1.6"/><circle cx="195.9" cy="411.1" r="1.6"/><circle cx="189.0" cy="412.6" r="1.6"/><circle cx="189.4" cy="415.3" r="1.6"/><circle cx="206.3" cy="413.0" r="1.6"/><circle cx="207.8" cy="413.4" r="1.6"/><circle cx="204.8" cy="414.9" r="1.6"/><circle cx="210.2" cy="414.9" r="1.6"/><circle cx="200.5" cy="415.3" r="1.6"/><circle cx="199.0" cy="416.5" r="1.6"/><circle cx="197.5" cy="417.2" r="1.6"/><circle cx="207.1" cy="416.1" r="1.6"/><circle cx="209.0" cy="417.6" r="1.6"/><circle cx="190.9" cy="417.6" r="1.6"/><circle cx="189.8" cy="418.8" r="1.6"/><circle cx="193.5" cy="420.4" r="1.6"/><circle cx="201.1" cy="421.7" r="1.6"/><circle cx="197.7" cy="422.5" r="1.6"/><circle cx="205.3" cy="422.5" r="1.6"/><circle cx="192.6" cy="423.8" r="1.6"/><circle cx="209.1" cy="423.8" r="1.6"/><circle cx="211.6" cy="424.2" r="1.6"/><circle cx="198.5" cy="425.1" r="1.6"/><circle cx="206.9" cy="425.9" r="1.6"/><circle cx="191.7" cy="422.6" r="1.6"/><circle cx="189.7" cy="429.9" r="1.6"/><circle cx="195.0" cy="429.3" r="1.6"/><circle cx="200.2" cy="429.3" r="1.6"/><circle cx="201.5" cy="429.7" r="1.6"/><circle cx="207.8" cy="430.3" r="1.6"/><circle cx="211.6" cy="430.1" r="1.6"/><circle cx="193.5" cy="433.1" r="1.6"/><circle cx="199.2" cy="432.5" r="1.6"/><circle cx="203.6" cy="433.1" r="1.6"/><circle cx="191.4" cy="435.2" r="1.6"/><circle cx="196.0" cy="435.0" r="1.6"/><circle cx="212.4" cy="436.0" r="1.6"/><circle cx="210.7" cy="437.3" r="1.6"/><circle cx="207.8" cy="438.1" r="1.6"/><circle cx="209.5" cy="439.8" r="1.6"/><circle cx="203.2" cy="440.4" r="1.6"/><circle cx="201.1" cy="442.6" r="1.6"/><circle cx="190.9" cy="442.1" r="1.6"/><circle cx="189.7" cy="443.6" r="1.6"/><circle cx="196.0" cy="444.8" r="1.6"/><circle cx="196.8" cy="446.5" r="1.6"/><circle cx="195.2" cy="446.9" r="1.6"/><circle cx="197.7" cy="448.2" r="1.6"/><circle cx="195.6" cy="450.3" r="1.6"/><circle cx="189.7" cy="447.4" r="1.6"/><circle cx="212.4" cy="445.7" r="1.6"/><circle cx="210.3" cy="447.4" r="1.6"/></g>
<g fill="#023f80"><circle cx="234.1" cy="379.9" r="1.6"/><circle cx="241.5" cy="385.2" r="1.6"/><circle cx="227.6" cy="390.4" r="1.6"/><circle cx="226.3" cy="406.6" r="1.6"/><circle cx="240.8" cy="421.3" r="1.6"/><circle cx="225.5" cy="425.6" r="1.6"/><circle cx="225.5" cy="433.5" r="1.6"/><circle cx="241.5" cy="434.7" r="1.6"/><circle cx="226.3" cy="438.4" r="1.6"/><circle cx="228.4" cy="438.7" r="1.6"/><circle cx="221.9" cy="447.6" r="1.6"/><circle cx="238.5" cy="446.3" r="1.6"/></g>
<rect x="0.5" y="0.5" width="519" height="473.8" fill="none" stroke="#000" stroke-width="1.2"/>
</svg>
</body></html>
